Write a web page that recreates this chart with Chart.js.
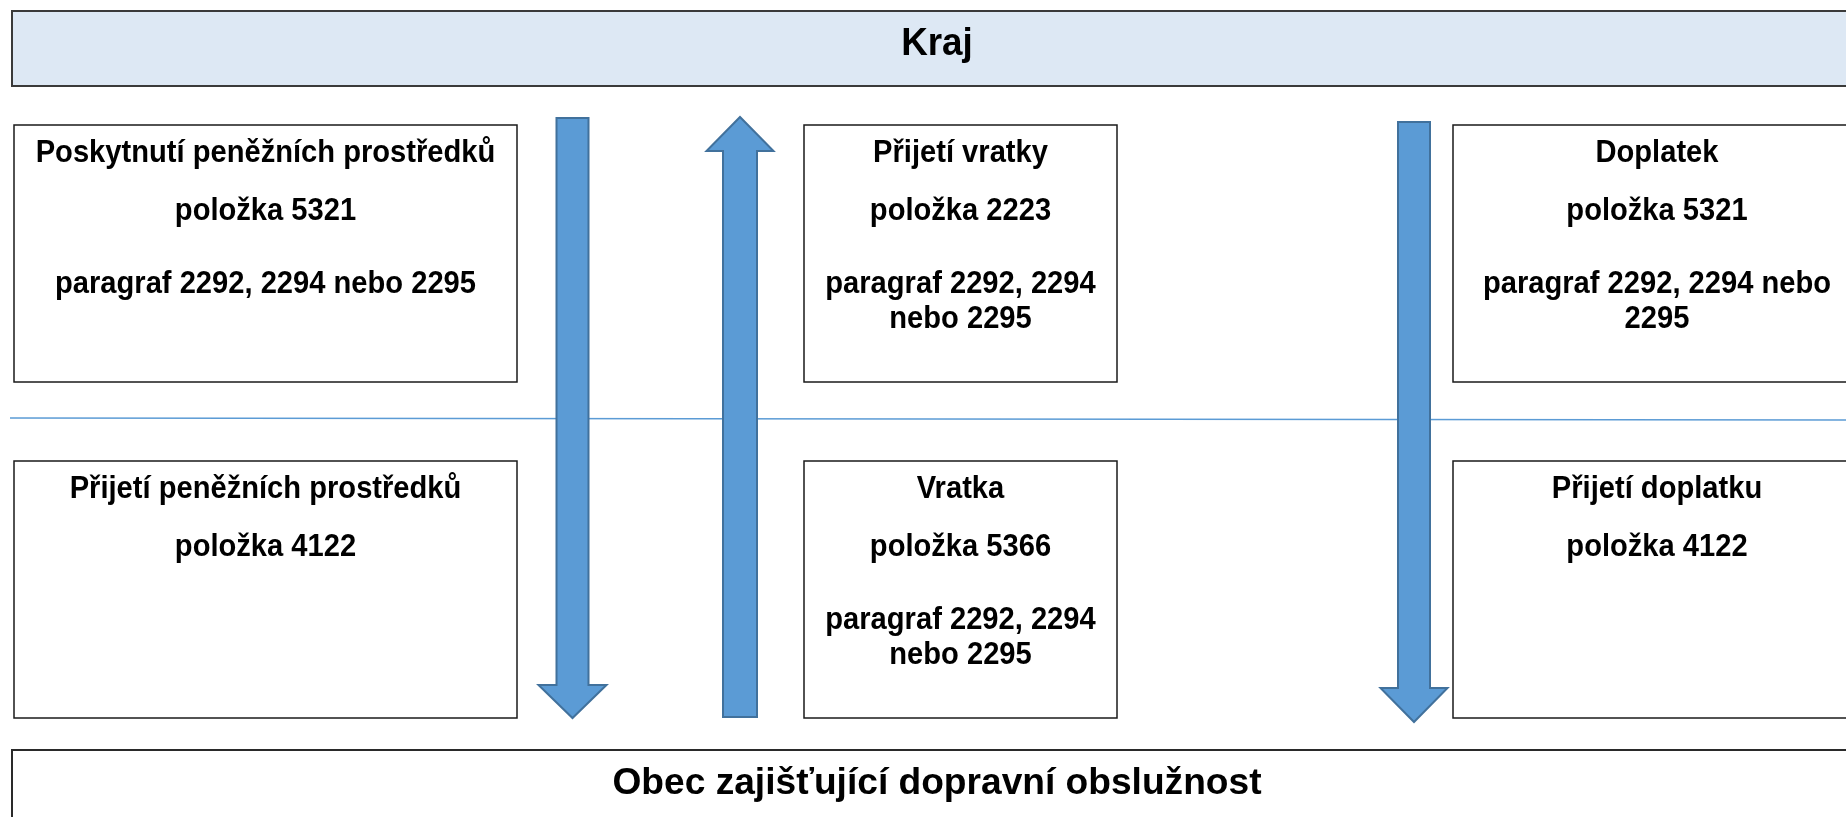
<!DOCTYPE html>
<html>
<head>
<meta charset="utf-8">
<script src="https://cdn.jsdelivr.net/npm/chart.js@4/dist/chart.umd.min.js"></script>
<style>
  html, body { margin: 0; padding: 0; background: #ffffff; }
  #wrap { width: 1846px; height: 817px; position: relative; }
</style>
</head>
<body>
<div id="wrap"><canvas id="c"></canvas></div>
<script>
// ---- content ----
const topLabel = "Kraj";
const bottomLabel = "Obec zajišťující dopravní obslužnost";
const boxTitles = ["Poskytnutí peněžních prostředků", "Přijetí vratky", "Doplatek",
                   "Přijetí peněžních prostředků", "Vratka", "Přijetí doplatku"];
const boxItems = ["položka 5321", "položka 2223", "položka 5321",
                  "položka 4122", "položka 5366", "položka 4122"];
const boxParagraphs = [
  ["paragraf 2292, 2294 nebo 2295"],
  ["paragraf 2292, 2294", "nebo 2295"],
  ["paragraf 2292, 2294 nebo", "2295"],
  [],
  ["paragraf 2292, 2294", "nebo 2295"],
  []
];
const flowDirections = ["down", "up", "down"];

// ---- layout (diagram units = page pixels) ----
const colSpans = [[14, 517], [804, 1117], [1453, 1861]];
const rowSpans = [[125, 382], [461, 718]];
const bandTop = [12, 11, 1862, 86];
const bandBottom = [12, 750, 1862, 830];
const dividerLine = [[10, 418], [1846, 420]];
const arrowLayout = [
  { cx: 572.5, shaft: 16, head: 34, y0: 118, y1: 718, headLen: 33 },
  { cx: 740,   shaft: 17, head: 33.5, y0: 117, y1: 717, headLen: 34 },
  { cx: 1414,  shaft: 16, head: 33.5, y0: 122, y1: 722, headLen: 34 }
];
const lineOffsets = [37, 95, 168, 203];
const FONT = "'Liberation Sans', Arial, sans-serif";

function scaledText(ctx, text, x, y, sx) {
  ctx.save();
  ctx.translate(x, y);
  ctx.scale(sx, 1);
  ctx.fillText(text, 0, 0);
  ctx.restore();
}

const diagramPlugin = {
  id: 'diagram',
  afterDraw(chart) {
    const ctx = chart.ctx;
    const xs = chart.scales.x, ys = chart.scales.y;
    const X = v => xs.getPixelForValue(v);
    const Y = v => ys.getPixelForValue(v);
    ctx.save();

    // top band
    ctx.fillStyle = '#dde8f4';
    ctx.strokeStyle = '#3a3a3a';
    ctx.lineWidth = 2;
    ctx.fillRect(X(bandTop[0]), Y(bandTop[1]), X(bandTop[2]) - X(bandTop[0]), Y(bandTop[3]) - Y(bandTop[1]));
    ctx.strokeRect(X(bandTop[0]), Y(bandTop[1]), X(bandTop[2]) - X(bandTop[0]), Y(bandTop[3]) - Y(bandTop[1]));
    // bottom band
    ctx.strokeStyle = '#2a2a2a';
    ctx.strokeRect(X(bandBottom[0]), Y(bandBottom[1]), X(bandBottom[2]) - X(bandBottom[0]), Y(bandBottom[3]) - Y(bandBottom[1]));

    ctx.fillStyle = '#000000';
    ctx.textAlign = 'center';
    ctx.textBaseline = 'alphabetic';
    ctx.font = "bold 38px " + FONT;
    scaledText(ctx, topLabel, X((bandTop[0] + bandTop[2]) / 2), Y(55), 0.97);
    ctx.font = "bold 37.5px " + FONT;
    scaledText(ctx, bottomLabel, X((bandBottom[0] + bandBottom[2]) / 2), Y(794), 0.99);

    // divider line
    ctx.strokeStyle = '#5b9bd5';
    ctx.lineWidth = 1.5;
    ctx.beginPath();
    ctx.moveTo(X(dividerLine[0][0]), Y(dividerLine[0][1]));
    ctx.lineTo(X(dividerLine[1][0]), Y(dividerLine[1][1]));
    ctx.stroke();

    // boxes
    ctx.font = "bold 30.5px " + FONT;
    boxTitles.forEach((title, i) => {
      const col = colSpans[i % 3], row = rowSpans[Math.floor(i / 3)];
      const x0 = X(col[0]), x1 = X(col[1]), y0 = Y(row[0]), y1 = Y(row[1]);
      ctx.fillStyle = '#ffffff';
      ctx.fillRect(x0, y0, x1 - x0, y1 - y0);
      ctx.strokeStyle = '#1a1a1a';
      ctx.lineWidth = 1.5;
      ctx.strokeRect(x0, y0, x1 - x0, y1 - y0);
      const cx = X((col[0] + col[1]) / 2);
      const lines = [title, boxItems[i]].concat(boxParagraphs[i]);
      ctx.fillStyle = '#000000';
      lines.forEach((t, k) => {
        scaledText(ctx, t, cx, Y(row[0] + lineOffsets[k]), 0.955);
      });
    });

    // arrows
    arrowLayout.forEach((a, i) => {
      const down = flowDirections[i] === 'down';
      const tip = down ? a.y1 : a.y0;
      const tail = down ? a.y0 : a.y1;
      const base = down ? a.y1 - a.headLen : a.y0 + a.headLen;
      ctx.beginPath();
      ctx.moveTo(X(a.cx - a.shaft), Y(tail));
      ctx.lineTo(X(a.cx - a.shaft), Y(base));
      ctx.lineTo(X(a.cx - a.head), Y(base));
      ctx.lineTo(X(a.cx), Y(tip));
      ctx.lineTo(X(a.cx + a.head), Y(base));
      ctx.lineTo(X(a.cx + a.shaft), Y(base));
      ctx.lineTo(X(a.cx + a.shaft), Y(tail));
      ctx.closePath();
      ctx.fillStyle = '#5b9bd5';
      ctx.fill();
      ctx.strokeStyle = '#41719c';
      ctx.lineWidth = 2;
      ctx.lineJoin = 'miter';
      ctx.stroke();
    });
    ctx.restore();
  }
};

new Chart(document.getElementById('c'), {
  type: 'scatter',
  data: { datasets: [{ data: [], pointRadius: 0 }] },
  options: {
    responsive: true,
    maintainAspectRatio: false,
    animation: false,
    layout: { padding: 0 },
    plugins: { legend: { display: false }, tooltip: { enabled: false } },
    scales: {
      x: { type: 'linear', min: 0, max: 1846, display: false },
      y: { type: 'linear', min: 0, max: 817, reverse: true, display: false }
    }
  },
  plugins: [diagramPlugin]
});
</script>
</body>
</html>
